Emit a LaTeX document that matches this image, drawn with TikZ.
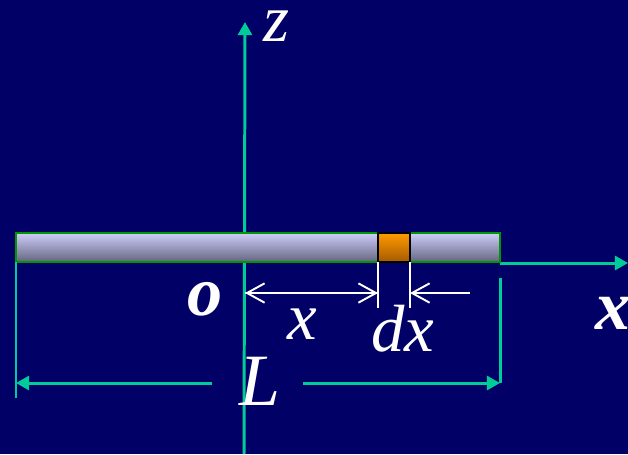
\documentclass[tikz,border=0pt]{standalone}
\usepackage{fontspec}
\setmainfont{Liberation Serif}
\usetikzlibrary{arrows.meta}

\definecolor{navybg}{RGB}{0,0,102}
\definecolor{axisteal}{RGB}{0,204,153}
\definecolor{rodgreen}{RGB}{0,150,0}
\definecolor{rodtop}{RGB}{205,205,250}
\definecolor{rodbot}{RGB}{100,100,128}
\definecolor{bittop}{RGB}{255,155,0}
\definecolor{bitbot}{RGB}{165,90,0}

\begin{document}
\begin{tikzpicture}[x=0.02cm, y=-0.02cm,
  axis/.style={draw=axisteal, line width=1.7pt},
  dim/.style={draw=white, line width=1.1pt},
  tri/.style={-{Triangle[length=7.5pt, width=8pt]}},
  barb/.style={-{Straight Barb[length=10pt, width=11pt]}},
  lbl/.style={text=white, inner sep=0pt, font=\itshape\fontsize{38}{40}\selectfont},
  boldlbl/.style={text=white, inner sep=0pt, font=\bfseries\itshape\fontsize{40}{42}\selectfont}]
  \useasboundingbox[fill=navybg] (0,0) rectangle (628,454);

  % points
  \coordinate (zbot) at (244,454);
  \coordinate (ztop) at (245,22);
  \coordinate (rodA) at (16,233);
  \coordinate (rodB) at (500,262);
  \coordinate (bitA) at (378,233);
  \coordinate (bitB) at (410,262);
  \coordinate (xaxA) at (500,263);
  \coordinate (xaxB) at (628,263);
  \coordinate (origin) at (245,293);
  \coordinate (dxL) at (378,293);
  \coordinate (dxR) at (410,293);
  \coordinate (dxOut) at (470,293);
  \coordinate (tickLa) at (378,262);
  \coordinate (tickLb) at (378,308);
  \coordinate (tickRa) at (410,262);
  \coordinate (tickRb) at (410,308);
  \coordinate (endLa) at (16,262);
  \coordinate (endLb) at (16,398);
  \coordinate (endRa) at (500,278);
  \coordinate (endRb) at (500,383);
  \coordinate (Lleft) at (212,383);
  \coordinate (Lright) at (303,383);
  \coordinate (Lend1) at (16,383);
  \coordinate (Lend2) at (500,383);

  % axes
  \draw[axis, tri] (zbot) -- (ztop);
  \draw[axis, tri] (xaxA) -- (xaxB);

  % rod and element
  \shade[top color=rodtop, bottom color=rodbot] (rodA) rectangle (rodB);
  \draw[rodgreen, line width=1.3pt] (rodA) rectangle (rodB);
  \shade[top color=bittop, bottom color=bitbot] (bitA) rectangle (bitB);
  \draw[black, line width=1.3pt] (bitA) rectangle (bitB);

  % x and dx
  \draw[dim, barb] (dxL) -- (origin);
  \draw[dim, barb] (origin) -- (dxL);
  \draw[dim, barb] (dxOut) -- (dxR);
  \draw[dim] (tickLa) -- (tickLb);
  \draw[dim] (tickRa) -- (tickRb);

  % length L
  \draw[axis] (endLa) -- (endLb);
  \draw[axis] (endRa) -- (endRb);
  \draw[axis, tri] (Lleft) -- (Lend1);
  \draw[axis, tri] (Lright) -- (Lend2);

  % labels
  \node[lbl] (zlab) at (276,26) {z};
  \node[boldlbl] (olab) at (205,299) {o};
  \node[boldlbl] (xaxlab) at (613,313) {x};
  \node[lbl] (xlab) at (302,324) {x};
  \node[lbl] (dxlab) at (403,329) {dx};
  \node[lbl, font=\itshape\fontsize{42}{44}\selectfont] (Llab) at (260,381) {L};
\end{tikzpicture}
\end{document}
